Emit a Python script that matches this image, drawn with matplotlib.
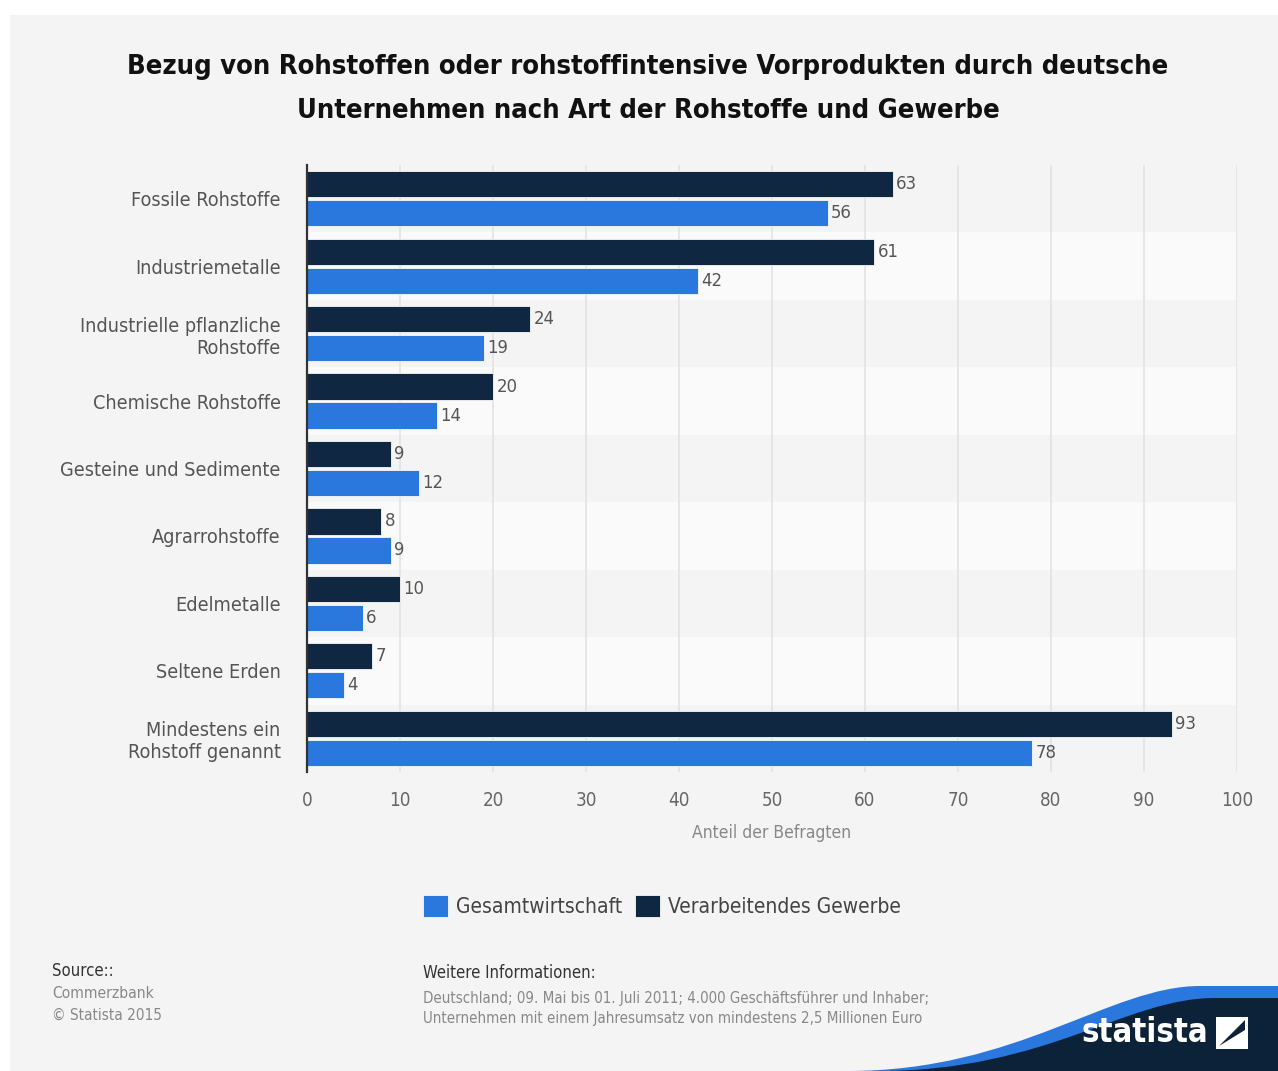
import matplotlib
matplotlib.use("Agg")
import matplotlib.pyplot as plt
from matplotlib.patches import Rectangle, PathPatch
from matplotlib.path import Path
import numpy as np

plt.rcParams["font.family"] = ["DejaVu Sans"]
plt.rcParams["font.stretch"] = "condensed"

categories = [
    "Fossile Rohstoffe",
    "Industriemetalle",
    "Industrielle pflanzliche\nRohstoffe",
    "Chemische Rohstoffe",
    "Gesteine und Sedimente",
    "Agrarrohstoffe",
    "Edelmetalle",
    "Seltene Erden",
    "Mindestens ein\nRohstoff genannt",
]
verarbeitendes = [63, 61, 24, 20, 9, 8, 10, 7, 93]
gesamt = [56, 42, 19, 14, 12, 9, 6, 4, 78]
xticks = [0, 10, 20, 30, 40, 50, 60, 70, 80, 90, 100]

title = ("Bezug von Rohstoffen oder rohstoffintensive Vorprodukten durch deutsche\n"
         "Unternehmen nach Art der Rohstoffe und Gewerbe")

DARK = "#0f2741"
BLUE = "#2a78de"
PANEL = "#f4f4f4"

W, H = 1278, 1071
fig = plt.figure(figsize=(W / 100, H / 100), dpi=100)
fig.patch.set_facecolor("white")

# gray panel behind everything
fig.patches.append(Rectangle((10 / W, 0), 1 - 10 / W, 1 - 15 / H, transform=fig.transFigure,
                             facecolor=PANEL, edgecolor="none", zorder=-5))

ax = fig.add_axes([307 / W, 1 - 772 / H, (1237 - 307) / W, (772 - 165) / H])
ax.set_facecolor("none")
ax.set_zorder(2)

n = len(categories)
y = np.arange(n)
for i in range(n):
    if i % 2 == 1:
        ax.axhspan(i - 0.5, i + 0.5, facecolor="#fafafa", edgecolor="none", zorder=0)

for xv in xticks[1:]:
    ax.axvline(xv, color="#e3e3e3", lw=1.2, zorder=1)

off = 0.215
bh = 0.39
ax.barh(y - off, verarbeitendes, height=bh, color=DARK, edgecolor="#f8f8f8", lw=0.6, zorder=3,
        label="Verarbeitendes Gewerbe")
ax.barh(y + off, gesamt, height=bh, color=BLUE, edgecolor="#f8f8f8", lw=0.6, zorder=3,
        label="Gesamtwirtschaft")

for i in range(n):
    ax.text(verarbeitendes[i] + 0.35, y[i] - off, str(verarbeitendes[i]), va="center", ha="left",
            fontsize=13.2, color="#555555", zorder=4)
    ax.text(gesamt[i] + 0.35, y[i] + off, str(gesamt[i]), va="center", ha="left",
            fontsize=13.2, color="#555555", zorder=4)

ax.set_xlim(0, 100)
ax.set_ylim(n - 0.5, -0.5)
ax.set_yticks(y)
ax.set_yticklabels(categories, fontsize=14.2, color="#555555")
ax.set_xticks(xticks)
ax.set_xticklabels([str(t) for t in xticks], fontsize=13.5, color="#666666")
ax.tick_params(axis="y", length=0, pad=19)
ax.tick_params(axis="x", length=0, pad=14)
for s in ["top", "right", "bottom"]:
    ax.spines[s].set_visible(False)
ax.spines["left"].set_color("#333333")
ax.spines["left"].set_linewidth(1.6)
ax.spines["left"].set_zorder(5)
ax.set_xlabel("Anteil der Befragten", fontsize=12.5, color="#888888", labelpad=10)

fig.text(648 / W, 1 - 89 / H, title, ha="center", va="center", fontsize=19.6,
         fontweight="bold", color="#111111", linespacing=1.85)

# legend
handles, labels = ax.get_legend_handles_labels()
leg = fig.legend(handles[::-1], labels[::-1], loc="center", bbox_to_anchor=(662 / W, 1 - 906 / H),
                 ncol=2, frameon=False, fontsize=15, handlelength=1.2, handleheight=1.2,
                 handletextpad=0.4, columnspacing=0.6)
for t in leg.get_texts():
    t.set_color("#444444")

# footer
fig.text(52 / W, 1 - 971 / H, "Source::", fontsize=12, color="#333333", va="center")
fig.text(52 / W, 1 - 993 / H, "Commerzbank", fontsize=11.2, color="#888888", va="center")
fig.text(52 / W, 1 - 1015 / H, "© Statista 2015", fontsize=11, color="#888888", va="center")
fig.text(423 / W, 1 - 973 / H, "Weitere Informationen:", fontsize=12, color="#333333", va="center")
fig.text(423 / W, 1 - 998 / H,
         "Deutschland; 09. Mai bis 01. Juli 2011; 4.000 Geschäftsführer und Inhaber;",
         fontsize=10.85, color="#888888", va="center")
fig.text(423 / W, 1 - 1019 / H,
         "Unternehmen mit einem Jahresumsatz von mindestens 2,5 Millionen Euro",
         fontsize=10.85, color="#888888", va="center")

# statista corner logo
def corner(x0, x1, ytop):
    verts = [(x0 / W, 0), ((x0 + 170) / W, 0), (x1 / W, (H - ytop) / H),
             ((x1 + 90) / W, (H - ytop) / H), (1, (H - ytop) / H), (1, 0), (x0 / W, 0)]
    codes = [Path.MOVETO, Path.CURVE4, Path.CURVE4, Path.CURVE4, Path.LINETO, Path.LINETO,
             Path.CLOSEPOLY]
    return Path(verts, codes)

fig.patches.append(PathPatch(corner(848, 1110, 986), transform=fig.transFigure,
                             facecolor=BLUE, edgecolor="none", zorder=1))
fig.patches.append(PathPatch(corner(878, 1125, 998), transform=fig.transFigure,
                             facecolor="#0c2238", edgecolor="none", zorder=1))
fig.text(1208 / W, 1 - 1032 / H, "statista", fontsize=23.5, fontweight="bold", color="white",
         ha="right", va="center", zorder=2)
fig.patches.append(Rectangle((1216 / W, 1 - 1049 / H), 32 / W, 32 / H, transform=fig.transFigure,
                             facecolor="white", edgecolor="none", zorder=2))
fig.patches.append(PathPatch(Path([(1219 / W, 1 - 1046 / H), (1245 / W, 1 - 1020 / H),
                                   (1245 / W, 1 - 1030 / H), (1229 / W, 1 - 1046 / H)],
                                  [Path.MOVETO, Path.LINETO, Path.LINETO, Path.CLOSEPOLY]),
                             transform=fig.transFigure, facecolor="#0c2238", edgecolor="none",
                             zorder=3))

fig.savefig("out.png", dpi=100)
